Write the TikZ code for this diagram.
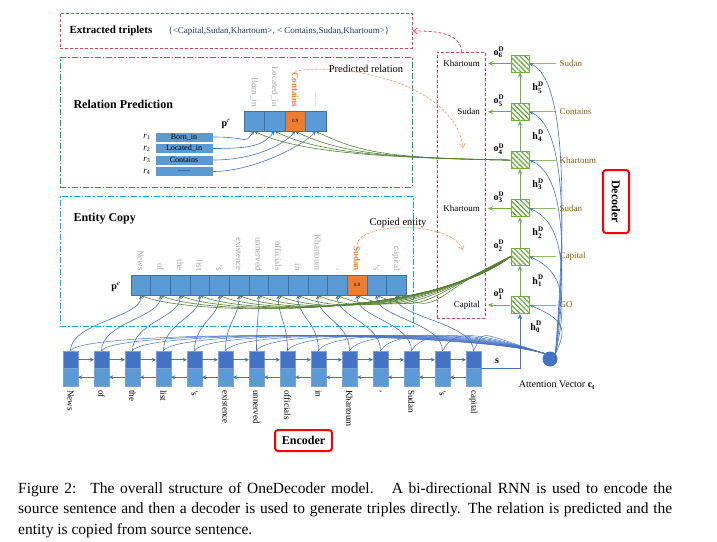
\documentclass[tikz,border=0pt]{standalone}
\usepackage{amsmath}
\usepackage{fontspec}
\setmainfont{Liberation Serif}
\usetikzlibrary{arrows.meta,patterns.meta}
\definecolor{ODBlueDark}{HTML}{4472C4}
\definecolor{ODBlue}{HTML}{5B9BD5}
\definecolor{ODBlueLine}{HTML}{7F9FD6}
\definecolor{ODCellLine}{HTML}{41719C}
\definecolor{ODOrange}{HTML}{ED7D31}
\definecolor{ODGreen}{HTML}{548235}
\definecolor{ODGreenLight}{HTML}{70AD47}
\definecolor{ODRed}{HTML}{FF0000}
\definecolor{ODRedDash}{HTML}{D9434E}
\definecolor{ODCyan}{HTML}{00B0F0}
\definecolor{ODGreenDash}{HTML}{00B050}
\definecolor{ODGray}{HTML}{A6A6A6}
\definecolor{ODInput}{HTML}{806000}
\definecolor{ODNavy}{HTML}{203864}
\newcommand{\odsize}[1]{\fontsize{#1}{#1}\selectfont}
\newcommand{\odvec}[3]{$\textbf{#1}^{\textbf{#2}}_{\textbf{#3}}$}
\newcommand{\oddots}{......}

\begin{document}
\begin{tikzpicture}[x=1pt,y=-1pt,
  odframe/.style={anchor=north west,inner sep=0pt,line width=0.8pt},
  enctop/.style={draw=ODBlueLine,fill=ODBlueDark,minimum width=15pt,minimum height=17.5pt,inner sep=0pt},
  encbot/.style={enctop,fill=ODBlue},
  pcell/.style={draw=ODCellLine,fill=ODBlue,minimum height=20pt,inner sep=0pt,font=\odsize{5}},
  rbox/.style={draw=white,fill=ODBlue,minimum width=58pt,minimum height=10pt,inner sep=0pt,font=\odsize{8}},
  deccell/.style={draw=ODGreenLight,line width=1pt,pattern={Lines[angle=-45,distance=3.5pt,line width=1.3pt]},pattern color=ODGreenLight,minimum width=18pt,minimum height=17pt,inner sep=0pt},
  grayword/.style={text=ODGray,rotate=-90,anchor=east,font=\odsize{9},inner sep=1pt},
  redlabel/.style={draw=ODRed,line width=2pt,rounded corners=3pt,font=\odsize{12}\bfseries,inner sep=0pt},
  bluearr/.style={ODBlueDark,line width=0.6pt,-{Stealth[length=4pt,width=3.5pt]}},
  encarr/.style={ODBlueDark,line width=0.8pt,-{Stealth[length=4pt,width=4pt]}},
  greenarr/.style={ODGreen,line width=0.6pt,-{Stealth[length=4pt,width=3.5pt]}},
  decarr/.style={ODGreenLight,line width=1pt,-{Stealth[length=5pt,width=4.5pt]}},
  inarr/.style={ODGreenLight!80,line width=1pt},
  orangearr/.style={ODOrange!80,dash pattern=on 2.5pt off 1.5pt,line width=0.6pt,-{Straight Barb[length=4pt,width=6pt]}}]
  \useasboundingbox[fill=white] (0,0) rectangle (717,541);

  % dashed frames
  \node[odframe,draw=ODRedDash,dash pattern=on 3pt off 2pt,minimum width=352pt,minimum height=35pt] (tripbox) at (60,13) {};
  \node[odframe,draw=ODGreenDash,dash pattern=on 6pt off 2pt on 1.5pt off 2pt,minimum width=352pt,minimum height=130pt] (relbox) at (60,57) {};
  \node[odframe,draw=ODCyan,dash pattern=on 6pt off 2pt on 1.5pt off 2pt,minimum width=353pt,minimum height=130pt] (entbox) at (60,196) {};
  \node[odframe,draw=ODRedDash,dash pattern=on 3pt off 2pt,minimum width=48pt,minimum height=266pt] (outbox) at (437,52) {};

  % titles
  \node[anchor=west,font=\odsize{11}\bfseries] (triptitle) at (66,31) {Extracted triplets};
  \node[anchor=west,text=ODNavy,font=\odsize{9}] (triptext) at (165,31) {\{<Capital,Sudan,Khartoum>, < Contains,Sudan,Khartoum>\}};
  \node[anchor=west,font=\odsize{12}\bfseries] (reltitle) at (70,104) {Relation Prediction};
  \node[font=\odsize{10.5}] (prtext) at (366,69) {Predicted relation};
  \node[anchor=west,font=\odsize{12}\bfseries] (enttitle) at (70,219) {Entity Copy};
  \node[font=\odsize{10.5}] (cetext) at (398,223) {Copied entity};

  % relation prediction
  \foreach \j/\w in {0/Born\_in,1/Located\_in,3/\oddots} {
    \node[pcell,minimum width=20.5pt] (pr\j) at ({254.25+20.5*\j},121) {};
    \node[grayword] (prl\j) at ({254.25+20.5*\j},108) {\w};
  }
  \node[pcell,fill=ODOrange,minimum width=20.5pt] (pr2) at (295.25,121) {0.9};
  \node[grayword,text=ODOrange,font=\odsize{9}\bfseries] (prl2) at (295.25,108) {Contains};
  \node[font=\odsize{10}] (prlabel) at (226,124) {\textbf{p}\textsuperscript{\textit{r}}};
  \foreach \j/\w in {1/Born\_in,2/Located\_in,3/Contains,4/\oddots} {
    \pgfmathtruncatemacro\c{\j-1}
    \node[rbox] (r\j) at (184,{125.5+11.5*\j}) {\w};
    \node[anchor=east,font=\odsize{9}] (rl\j) at (154,{125.5+11.5*\j}) {\textit{r}\textsubscript{\j}};
    \draw[bluearr] (r\j.east) .. controls +(40,0) and +(-12,14) .. (pr\c.south);
  }

  % entity copy
  \foreach \w [count=\i from 0] in {News,of,the,list,'s,existence,unnerved,officials,in,Khartoum,{,},Sudan,'s,capital} {
    \ifnum\i=11 \else
      \node[pcell,minimum width=19.65pt] (pe\i) at ({140.8+19.65*\i},285) {};
      \node[grayword] (pel\i) at ({140.8+19.65*\i},272) {\w};
    \fi
  }
  \node[pcell,fill=ODOrange,minimum width=19.65pt] (pe11) at (356.95,285) {0.8};
  \node[grayword,text=ODOrange,font=\odsize{9}\bfseries] (pel11) at (356.95,272) {Sudan};
  \node[font=\odsize{10}] (pelabel) at (116,287) {\textbf{p}\textsuperscript{\textit{e}}};

  % encoder
  \node[circle,fill=ODBlueDark,minimum size=15pt,inner sep=0pt] (att) at (550,359) {};
  \node[font=\odsize{10}] (attlabel) at (557,385) {Attention Vector \textbf{c}\textsubscript{\textbf{t}}};
  \foreach \w [count=\i from 0] in {News,of,the,list,'s,existence,unnerved,officials,in,Khartoum,{,},Sudan,'s,capital} {
    \node[enctop] (et\i) at ({70.5+31*\i},359.75) {};
    \node[encbot] (eb\i) at ({70.5+31*\i},377.25) {};
    \node[rotate=-90,anchor=west,font=\odsize{9},inner sep=1pt] (ew\i) at ({70.5+31*\i},389) {\w};
  }
  \foreach \i [evaluate=\i as \n using int(\i+1)] in {0,...,12} {
    \draw[encarr] (et\i) -- (et\n);
    \draw[encarr] (eb\n) -- (eb\i);
  }
  \foreach \i in {0,...,13} {
    \draw[ODBlueDark,line width=0.5pt] (et\i.north) .. controls +(12,-22) and +(-70,-22) .. (att.north west);
    \draw[bluearr] (et\i.north) .. controls +(0,-28) and +(0,22) .. (pe\i.south);
  }
  \node[redlabel,minimum width=57pt,minimum height=21pt] (enclabel) at (303.5,440.5) {Encoder};

  % decoder
  \foreach \k/\inp in {1/GO,2/Capital,3/Sudan,4/Khartoum,5/Contains,6/Sudan} {
    \node[deccell] (d\k) at (520,{305-48.3*(\k-1)}) {};
    \node[anchor=west,text=ODInput,font=\odsize{9}] (in\k) at (556,{305-48.3*(\k-1)}) {\inp};
    \node[font=\odsize{10}] (o\k) at (499,{294-48.3*(\k-1)}) {\odvec{o}{D}{\k}};
    \draw[inarr] (in\k) -- (d\k);
  }
  \foreach \k/\outp in {1/Capital,3/Khartoum,5/Sudan,6/Khartoum} {
    \node[anchor=east,inner xsep=8pt,font=\odsize{9}] (out\k) at (488,{305-48.3*(\k-1)}) {\outp};
    \draw[decarr] (d\k.west) -- (out\k.east);
  }
  \foreach \k [evaluate=\k as \n using int(\k+1)] in {1,...,5} {
    \draw[decarr] (d\k) -- (d\n);
    \node[font=\odsize{10}] (h\k) at (538,{305-48.3*(\k-1)-24.15}) {\odvec{h}{D}{\k}};
  }
  \node[font=\odsize{10}] (h0) at (536,327) {\odvec{h}{D}{0}};
  \draw[decarr,ODBlueDark] (et13.south east) -| (d1.south);
  \node[font=\odsize{10}\bfseries] (slabel) at (497,361) {s};
  \foreach \k in {1,...,6} {
    \draw[bluearr] (att.north east) .. controls +(12,{-0.55*48.3*(\k-1)-25}) and +(35,15) .. (d\k.east);
  }
  \node[redlabel,rotate=-90,minimum width=63pt,minimum height=26pt] (declabel) at (616,201.5) {Decoder};

  % copy and prediction fans
  \foreach \i in {0,...,13} {
    \draw[greenarr] (d2.west) .. controls (430,{320-2*\i}) and +(45,20) .. (pe\i.south);
  }
  \foreach \j in {0,...,3} {
    \draw[greenarr] (d4.west) .. controls (390,158) and +(45,22) .. (pr\j.south);
  }

  % pointers
  \coordinate (reltip) at (463,148);
  \coordinate (enttip) at (463,250);
  \draw[orangearr] (prl2.west) .. controls (350,62) and (455,85) .. (reltip);
  \draw[orangearr] (pel11.west) .. controls (358,222) and (450,220) .. (enttip);
  \draw[ODRedDash,dash pattern=on 3pt off 2pt,line width=0.8pt,-{Straight Barb[length=4pt,width=6pt]}] (outbox.north) .. controls +(0,-20) and +(20,0) .. (tripbox.east);

  % caption
  \node[anchor=north west,inner sep=0pt,text width=654pt,align=justify,font=\fontsize{15.5}{20.5}\selectfont] (caption) at (18,482) {Figure 2:\hspace{0.9em}The overall structure of OneDecoder model.\hspace{0.5em} A bi-directional RNN is used to encode the\linebreak source sentence and then a decoder is used to generate triples directly. The relation is predicted and the\linebreak entity is copied from source sentence.};
\end{tikzpicture}
\end{document}
